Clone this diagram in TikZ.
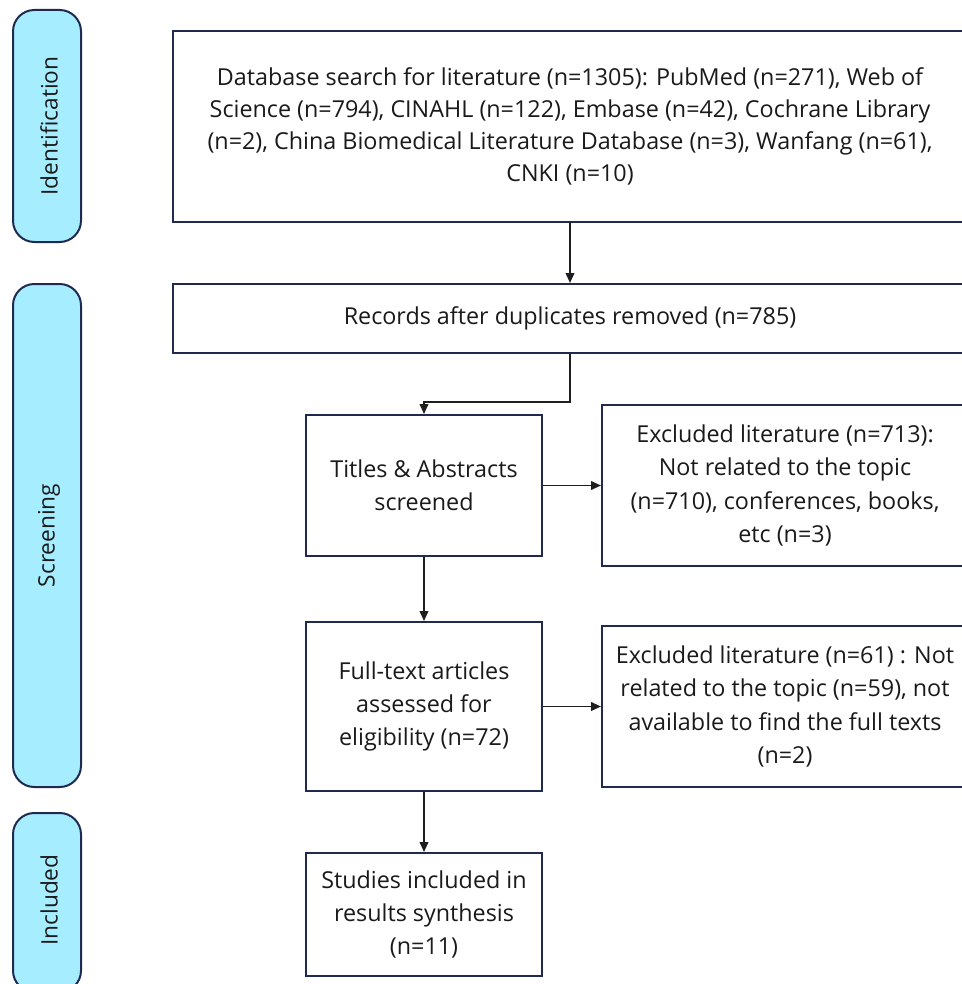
\documentclass[tikz,border=0pt]{standalone}
\usepackage{fontspec}
\setmainfont{Open Sans}
\usetikzlibrary{arrows.meta,calc}
\definecolor{barfill}{RGB}{166,238,255}
\definecolor{navy}{RGB}{32,42,80}
\definecolor{txt}{RGB}{26,26,26}
\definecolor{arr}{RGB}{30,30,30}
\tikzset{
  box/.style={draw=navy, line width=1.5pt, fill=white, align=center, text=txt,
    font=\fontsize{17.5}{25}\selectfont, inner sep=0pt},
  bar/.style={draw=navy, line width=1.5pt, fill=barfill, rounded corners=16pt},
  bartext/.style={rotate=90, text=txt, font=\fontsize{17}{25}\selectfont},
  conn/.style={draw=arr, line width=1.3pt, -{Triangle[length=7.5pt,width=6.5pt]}},
}
\begin{document}
\begin{tikzpicture}[x=0.75pt,y=-0.75pt]
\useasboundingbox (0,0) rectangle (962,984);
\clip (0,0) rectangle (962,984);
% phase bars
\node[bar, minimum width=68*0.75pt, minimum height=232*0.75pt] (idb) at (47,126) {};
\node[bartext] (idt) at (49,126) {Identification};
\node[bar, minimum width=68*0.75pt, minimum height=503*0.75pt] (scb) at (47,535.5) {};
\node[bartext] (sct) at (49,535.5) {Screening};
\node[bar, minimum width=68*0.75pt, minimum height=179*0.75pt] (inb) at (47,902.5) {};
\node[bartext] (int) at (49,900) {Included};
% boxes
\node[box, minimum width=794*0.75pt, minimum height=191*0.75pt,
      font=\fontsize{17.5}{24}\selectfont] (b1) at (570,126.5)
  {Database search for literature (n=1305): PubMed (n=271), Web of\\
   Science (n=794), CINAHL (n=122), Embase (n=42), Cochrane Library\\
   (n=2), China Biomedical Literature Database (n=3), Wanfang (n=61),\\
   CNKI (n=10)};
\node[box, minimum width=794*0.75pt, minimum height=69*0.75pt] (b2) at (570,318.5)
  {Records after duplicates removed (n=785)};
\node[box, minimum width=236*0.75pt, minimum height=141*0.75pt] (b3) at (424,485.5)
  {Titles \& Abstracts\\ screened};
\node[box, minimum width=366*0.75pt, minimum height=161*0.75pt] (b4) at (785,485.5)
  {Excluded literature (n=713):\\ Not related to the topic\\ (n=710), conferences, books,\\ etc (n=3)};
\node[box, minimum width=236*0.75pt, minimum height=169*0.75pt] (b5) at (424,706.5)
  {Full-text articles\\ assessed for\\ eligibility (n=72)};
\node[box, minimum width=366*0.75pt, minimum height=161*0.75pt] (b6) at (785,706.5)
  {Excluded literature (n=61) : Not\\ related to the topic (n=59), not\\ available to find the full texts\\ (n=2)};
\node[box, minimum width=236*0.75pt, minimum height=123*0.75pt] (b7) at (424,914.5)
  {Studies included in\\ results synthesis\\ (n=11)};
% connectors
\draw[conn] (b1.south) -- (b2.north);
\draw[conn] (b2.south) -- ++(0,48) -| (b3.north);
\draw[conn] (b3.east) -- (b3.east -| b4.west);
\draw[conn] (b5.east) -- (b5.east -| b6.west);
\draw[conn] (b3.south) -- (b5.north);
\draw[conn] (b5.south) -- (b7.north);
\end{tikzpicture}
\end{document}
